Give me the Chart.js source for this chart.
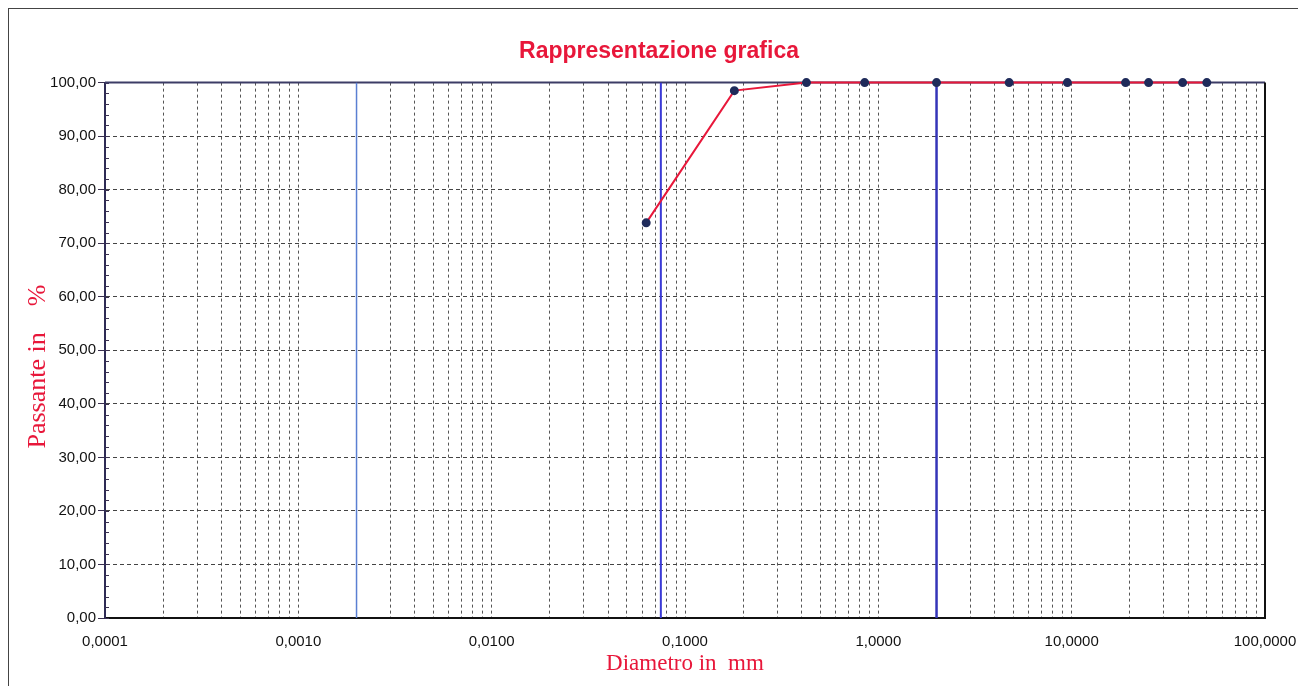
<!DOCTYPE html>
<html>
<head>
<meta charset="utf-8">
<script src="https://cdn.jsdelivr.net/npm/chart.js@4.4.1/dist/chart.umd.min.js"></script>
<style>
  html, body { margin: 0; padding: 0; background: #fff; overflow: hidden; }
  #frame { position: absolute; left: 8px; top: 8px; width: 1400px; height: 800px; border: 1px solid #444; }
  #wrap { position: absolute; left: 0; top: 0; width: 1298px; height: 686px; }
</style>
</head>
<body>
<div id="frame"></div>
<div id="wrap"><canvas id="chart" width="1298" height="686"></canvas></div>
<script>
// sieve diameters (mm) and percent passing
const DIAMETERS = [0.063, 0.18, 0.425, 0.85, 2, 4.75, 9.5, 19, 25, 37.5, 50];
const PASSING = [73.8, 98.5, 100, 100, 100, 100, 100, 100, 100, 100, 100];

// class boundaries (clay/silt, silt/sand, sand/gravel)
const BOUNDARIES = [0.002, 0.075, 2];
const BOUNDARY_COLORS = ['#5a7fd2', '#3a3ad6', '#3434b8'];
const BOUNDARY_WIDTHS = [1.5, 2, 2.5];

const X_MIN = 0.0001;
const X_MAX = 100;
const DECADES = [0.0001, 0.001, 0.01, 0.1, 1, 10, 100];
const Y_TICKS = [0, 10, 20, 30, 40, 50, 60, 70, 80, 90, 100];
const Y_MINOR_STEP = 2;

const RED = '#e8173a';

function isDecade(v) {
  return DECADES.some(d => Math.abs(v / d - 1) < 1e-6);
}

const frameLines = {
  id: 'frameLines',
  beforeDatasetsDraw(chart) {
    const { ctx, chartArea: a, scales } = chart;
    ctx.save();
    // minor ticks on the y axis
    ctx.strokeStyle = '#3a3050';
    ctx.lineWidth = 1;
    for (let v = 0; v <= 100; v += Y_MINOR_STEP) {
      const y = Math.round(scales.y.getPixelForValue(v)) + 0.5;
      ctx.beginPath();
      ctx.moveTo(a.left, y);
      ctx.lineTo(a.left + 4, y);
      ctx.stroke();
    }
    // top and right edges of the plot
    ctx.lineWidth = 2;
    ctx.strokeStyle = '#3c3c66';
    ctx.beginPath();
    ctx.moveTo(a.left, a.top);
    ctx.lineTo(a.right, a.top);
    ctx.stroke();
    ctx.strokeStyle = '#111';
    ctx.beginPath();
    ctx.moveTo(a.right, a.top);
    ctx.lineTo(a.right, a.bottom);
    ctx.stroke();
    ctx.restore();
  },
};

const datasets = BOUNDARIES.map((b, i) => ({
  label: 'limite ' + b,
  data: [{ x: b, y: 0 }, { x: b, y: 100 }],
  borderColor: BOUNDARY_COLORS[i],
  borderWidth: BOUNDARY_WIDTHS[i],
  pointRadius: 0,
  order: 2,
}));

datasets.push({
  label: 'Passante',
  data: DIAMETERS.map((d, i) => ({ x: d, y: PASSING[i] })),
  borderColor: RED,
  borderWidth: 2,
  pointRadius: 3.5,
  pointBackgroundColor: '#1f2b5a',
  pointBorderColor: '#1f2b5a',
  clip: false,
  order: 0,
});

new Chart(document.getElementById('chart'), {
  type: 'line',
  data: { datasets },
  plugins: [frameLines],
  options: {
    responsive: false,
    animation: false,
    layout: { padding: { left: 20, right: 0, top: 0, bottom: 0 } },
    plugins: {
      legend: { display: false },
      tooltip: { enabled: false },
      title: {
        display: true,
        text: 'Rappresentazione grafica',
        color: RED,
        font: { family: 'Arial, "Liberation Sans"', size: 23, weight: 'bold' },
        padding: { top: 38, bottom: 17 },
      },
    },
    scales: {
      x: {
        type: 'logarithmic',
        min: X_MIN,
        max: X_MAX,
        afterBuildTicks(scale) {
          const ticks = [];
          for (let e = -4; e <= 1; e++) {
            for (let m = 1; m <= 9; m++) ticks.push({ value: m * Math.pow(10, e) });
          }
          ticks.push({ value: X_MAX });
          scale.ticks = ticks;
        },
        afterFit(scale) {
          scale.height = 68;
          scale.paddingLeft = 0;
          scale.paddingRight = 33;
        },
        ticks: {
          autoSkip: false,
          maxRotation: 0,
          padding: 15,
          color: '#111',
          font: { family: 'Arial, "Liberation Sans"', size: 15 },
          callback(v) { return isDecade(v) ? v.toFixed(4).replace('.', ',') : ''; },
        },
        grid: {
          drawTicks: false,
          lineWidth: 1,
          color(ctx) {
            const v = ctx.tick && ctx.tick.value;
            if (v === undefined || Math.abs(v / X_MIN - 1) < 1e-6 || Math.abs(v / X_MAX - 1) < 1e-6) return 'rgba(0,0,0,0)';
            return '#555';
          },
        },
        border: { display: true, color: '#111', width: 2, dash: [3, 3] },
        title: {
          display: true,
          text: 'Diametro in  mm',
          color: RED,
          font: { family: '"Liberation Serif", "Times New Roman", serif', size: 23 },
          padding: { top: 0, bottom: 8 },
        },
      },
      y: {
        min: 0,
        max: 100,
        afterBuildTicks(scale) { scale.ticks = Y_TICKS.map(v => ({ value: v })); },
        afterFit(scale) { scale.width = 85; },
        ticks: {
          padding: 2,
          color: '#111',
          font: { family: 'Arial, "Liberation Sans"', size: 15 },
          callback(v) { return v.toFixed(2).replace('.', ','); },
        },
        grid: {
          drawTicks: true,
          tickLength: 7,
          tickColor: '#3a3050',
          lineWidth: 1,
          color(ctx) {
            const v = ctx.tick && ctx.tick.value;
            return v === 0 || v === 100 ? 'rgba(0,0,0,0)' : '#444';
          },
        },
        border: { display: true, color: '#2e2b55', width: 2, dash: [4, 3] },
        title: {
          display: true,
          text: 'Passante in    %     ',
          color: RED,
          font: { family: '"Liberation Serif", "Times New Roman", serif', size: 26 },
          padding: { top: 3, bottom: 0 },
        },
      },
    },
  },
});
</script>
</body>
</html>
